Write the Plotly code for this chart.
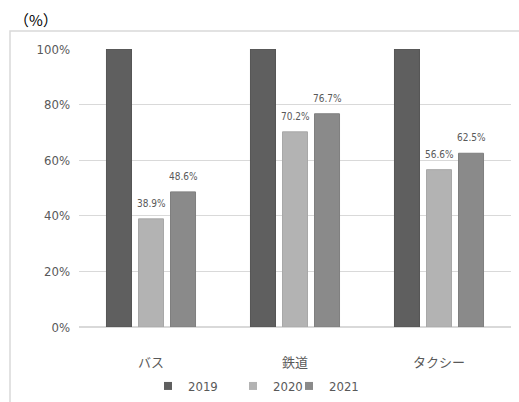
import plotly.graph_objects as go

categories = ["バス", "鉄道", "タクシー"]
series_names = ["2019", "2020", "2021"]
v2019 = [100, 100, 100]
v2020 = [38.9, 70.2, 56.6]
v2021 = [48.6, 76.7, 62.5]
y_ticks = [0, 20, 40, 60, 80, 100]

colors = ["#5f5f5f", "#b3b3b3", "#8a8a8a"]
lines = ["#555555", "#a8a8a8", "#7f7f7f"]
FONT = "DejaVu Sans Condensed, Noto Sans CJK JP, sans-serif"
GRAY = "#595959"

L, R, T, B = 79, 8, 49, 75
W, H = 519, 402
pw, ph = W - L - R, H - T - B

def px(x):
    return (x - L) / pw

def py(y):
    return (H - B - y) / ph

fig = go.Figure()
for name, vals, c, lc in zip(series_names, [v2019, v2020, v2021], colors, lines):
    fig.add_trace(go.Bar(
        x=categories, y=vals, name=name, showlegend=False,
        marker=dict(color=c, line=dict(color=lc, width=1)),
    ))

# legend entries (small square markers), each in its own legend
legend_x = [px(148), px(233), px(289)]
for i, (name, c) in enumerate(zip(series_names, colors)):
    lg = "legend" if i == 0 else f"legend{i+1}"
    fig.add_trace(go.Scatter(
        x=[None], y=[None], mode="markers", name=name, legend=lg,
        marker=dict(symbol="square", size=8, color=c),
        showlegend=True,
    ))

# data labels for 2020 and 2021
offsets = {"2020": 0, "2021": 32}
for name, vals in [("2020", v2020), ("2021", v2021)]:
    for cat, v in zip(categories, vals):
        fig.add_annotation(x=cat, y=v, xref="x", yref="y", text=f"{v:.1f}%",
                           showarrow=False, xshift=offsets[name], yshift=8,
                           yanchor="bottom", xanchor="center",
                           font=dict(size=10, color=GRAY, family=FONT))

fig.add_shape(type="rect", xref="paper", yref="paper",
              x0=px(10), x1=px(530), y0=py(420), y1=py(31),
              line=dict(color="#d9d9d9", width=1.5), fillcolor="rgba(0,0,0,0)", layer="below")

fig.add_annotation(text="（%）", xref="paper", yref="paper", x=px(12), y=py(20),
                   xanchor="left", yanchor="middle", showarrow=False,
                   font=dict(size=15, color="#000000", family="Noto Sans CJK JP"))

leg_common = dict(orientation="h", xanchor="left", y=py(386), yanchor="middle",
                  font=dict(size=13, color=GRAY, family=FONT),
                  bgcolor="rgba(0,0,0,0)", itemwidth=30)

fig.update_layout(
    width=W, height=H,
    margin=dict(l=L, r=R, t=T, b=B, autoexpand=False),
    paper_bgcolor="white", plot_bgcolor="white",
    barmode="group", bargap=0.333, bargroupgap=0.219,
    font=dict(family=FONT, color=GRAY, size=13),
    legend=dict(x=legend_x[0], **leg_common),
    legend2=dict(x=legend_x[1], **leg_common),
    legend3=dict(x=legend_x[2], **leg_common),
    xaxis=dict(showline=False, ticks="", ticklabelstandoff=26,
               tickfont=dict(size=13, color=GRAY, family=FONT)),
    yaxis=dict(range=[0, 100], tickvals=y_ticks, ticktext=[f"{t}%" for t in y_ticks],
               showgrid=True, gridcolor="#d9d9d9", gridwidth=1, zeroline=True,
               zerolinecolor="#d9d9d9", zerolinewidth=1.5, ticks="",
               ticklabelstandoff=8,
               tickfont=dict(size=13, color=GRAY, family=FONT)),
)

fig.write_html("out.html")
